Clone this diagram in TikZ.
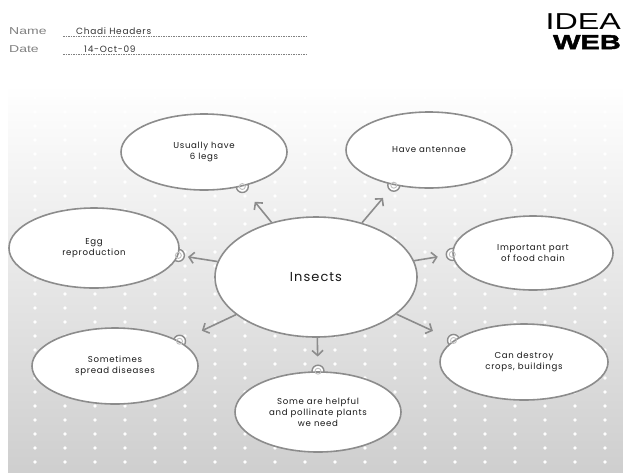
\documentclass[tikz,border=0pt]{standalone}
\usepackage{fontspec}
\setmainfont{Poppins}
\newfontfamily\handfont[LetterSpace=8]{Poppins}
\newfontfamily\wideregfont[FakeStretch=1.4]{Liberation Sans}
\newfontfamily\wideboldfont[FakeStretch=1.45,FakeBold=2.5]{Liberation Sans Bold}
\usetikzlibrary{shapes.geometric,arrows.meta,positioning}
\pgfdeclarelayer{back}
\pgfdeclarelayer{bg}
\pgfsetlayers{back,bg,main}

\begin{document}
\begin{tikzpicture}[x=1pt,y=-1pt]
\tikzset{bubble/.style={ellipse,draw=black!45,line width=1.6pt,fill=white,inner sep=0pt,
    minimum width=166pt,minimum height=76pt,align=center,text=black!90,
    font=\handfont\fontsize{8.6}{11}\selectfont},
  bump/.style={circle,draw=black!45,line width=1.4pt,fill=white,minimum size=12pt,inner sep=0pt},
  ring/.style={circle,draw=black!25,line width=0.9pt,minimum size=6pt,inner sep=0pt},
  arr/.style={draw=black!45,line width=1.6pt,-{Straight Barb[length=5pt,width=11pt]}},
  formlbl/.style={anchor=base west,inner sep=0pt,text=black!50,font=\wideregfont\fontsize{10}{11}\selectfont},
  handtxt/.style={anchor=base west,inner sep=0pt,text=black!80,font=\handfont\fontsize{9}{10}\selectfont}}
\useasboundingbox (0,0) rectangle (623,472);
\clip (0,0) rectangle (623,472);

% panel with dots
\begin{pgfonlayer}{back}
\shade[top color=white,bottom color=black!19] (8,85) rectangle (623,472);
\foreach \i in {0,...,19}
  \foreach \j in {0,...,26}
    \fill[white] (35+30*\i,98+14*\j) circle (1.8);
\end{pgfonlayer}

% header
\node[formlbl] (namelbl) at (9,34) {Name};
\node[formlbl] (datelbl) at (9,52) {Date};
\node[handtxt] (nameval) at (76,34) {Chadi Headers};
\node[handtxt] (dateval) at (84,52) {14-Oct-09};
\coordinate (nameA) at (63,36.5);
\coordinate (nameB) at (306,36.5);
\coordinate (dateA) at (63,54.5);
\coordinate (dateB) at (306,54.5);
\draw[black!50,line width=0.5pt,dash pattern=on 1.5pt off 1pt] (nameA) -- (nameB);
\draw[black!50,line width=0.5pt,dash pattern=on 1.5pt off 1pt] (dateA) -- (dateB);
\node[anchor=base east,inner sep=0pt,font=\wideregfont\fontsize{23}{23}\selectfont] (idea) at (621,29) {IDEA};
\node[anchor=base east,inner sep=0pt,font=\wideboldfont\fontsize{20}{20}\selectfont] (web) at (621,49) {WEB};

% bubbles
\node[bubble,minimum width=202pt,minimum height=120pt,font=\handfont\fontsize{13}{15}\selectfont] (insects) at (316,277) {Insects};
\node[bubble] (legs) at (204,152) {Usually have\\6 legs};
\node[bubble] (antennae) at (429,150) {Have antennae};
\node[bubble,minimum width=170pt,minimum height=80pt] (egg) at (94,248) {Egg\\reproduction};
\node[bubble,minimum width=160pt,minimum height=74pt] (food) at (533,253) {Important part\\of food chain};
\node[bubble] (diseases) at (115,366) {Sometimes\\spread diseases};
\node[bubble,minimum width=168pt] (crops) at (524,362) {Can destroy\\crops, buildings};
\node[bubble,minimum height=80pt] (helpful) at (318,412) {Some are helpful\\and pollinate plants\\we need};

\begin{pgfonlayer}{bg}
\foreach \b/\a in {legs/-42,antennae/-135,egg/-5,food/181,diseases/21,crops/163,helpful/90}
  \node[bump] (\b dot) at (\b.\a) {};
\end{pgfonlayer}
\foreach \b in {legs,antennae,egg,food,diseases,crops,helpful}
  \node[ring] (\b ring) at (\b dot) {};

% arrows
\foreach \b/\s in {legs/13pt,antennae/10pt,egg/3pt,food/8pt,diseases/18pt,crops/16pt,helpful/8pt}
  \draw[arr,shorten >=\s] (insects) -- (\b dot);
\end{tikzpicture}
\end{document}
